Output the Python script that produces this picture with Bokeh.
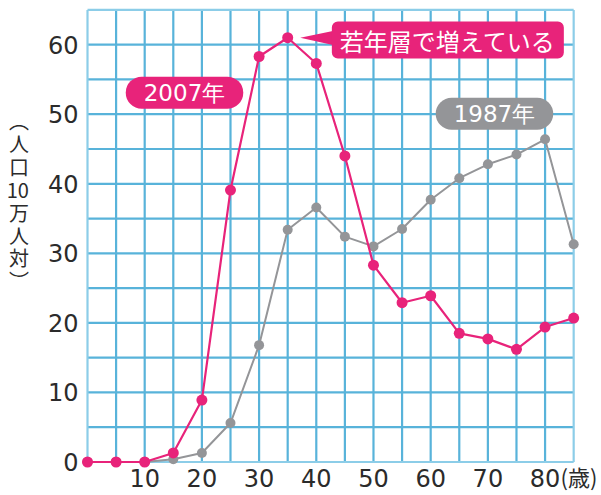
from bokeh.plotting import figure
from bokeh.models import Range1d, FixedTicker, Label, PolyAnnotation
from bokeh.core.properties import value
from bokeh.embed import file_html
from bokeh.resources import INLINE

# ---- data ----
ages = [0, 5, 10, 15, 20, 25, 30, 35, 40, 45, 50, 55, 60, 65, 70, 75, 80, 85]
pop_2007 = [0, 0, 0, 1.3, 8.9, 39.1, 58.3, 61.0, 57.3, 44.0, 28.3, 22.9, 23.9, 18.5, 17.7, 16.2, 19.4, 20.7]
pop_1987 = [0, 0, 0, 0.4, 1.3, 5.6, 16.8, 33.4, 36.6, 32.4, 31.0, 33.5, 37.7, 40.8, 42.8, 44.2, 46.4, 31.3]
x_ticks = [10, 20, 30, 40, 50, 60, 70, 80]
x_tick_labels = ["10", "20", "30", "40", "50", "60", "70", "80"]
y_ticks = [0, 10, 20, 30, 40, 50, 60]
grid_y = [5, 10, 15, 20, 25, 30, 35, 40, 45, 50, 55, 60]
x_min, x_max = 0, 85
y_min, y_max = 0, 65
x_unit = "(歳)"
y_title = "︵\n人\n口\n10\n万\n人\n対\n︶\n\u3000\n\u3000\n\u3000\n\u3000"

PINK = "#e8237a"
GRAY = "#949598"
GRID = "#58b3da"
BORDER = "#8ccde8"
TEXT = "#2b2b2b"
JP = "Noto Sans CJK JP"
NUM = "DejaVu Sans"

p = figure(width=600, height=492, x_range=Range1d(-1.049, 89.69), y_range=Range1d(-4.385, 66.35),
           output_backend="svg", toolbar_location=None,
           min_border_left=81, min_border_right=0, min_border_top=0, min_border_bottom=0)
p.outline_line_color = None
p.xgrid.visible = False
p.ygrid.visible = False

# grid
inner_x = [a for a in ages if x_min < a < x_max]
p.segment(x0=inner_x, y0=y_min, x1=inner_x, y1=y_max, line_color=GRID, line_width=2.2)
p.segment(x0=x_min, y0=grid_y, x1=x_max, y1=grid_y, line_color=GRID, line_width=2.2)
p.segment(x0=[x_min, x_max], y0=y_min, x1=[x_min, x_max], y1=y_max, line_color=BORDER, line_width=2.2)
p.segment(x0=x_min, y0=[y_min, y_max], x1=x_max, y1=[y_min, y_max], line_color=BORDER, line_width=2.2)

# series
p.line(ages, pop_1987, line_color=GRAY, line_width=2)
p.scatter(ages, pop_1987, size=10, fill_color=GRAY, line_color=None)
p.line(ages, pop_2007, line_color=PINK, line_width=2.2)
p.scatter(ages, pop_2007, size=11, fill_color=PINK, line_color=None)

# x tick labels (drawn on the x scale, below the zero line)
p.xaxis.visible = False
p.text(x=x_ticks, y=-2.33, text=x_tick_labels, text_align="center", text_baseline="middle",
       text_font=value(NUM), text_font_size="24px", text_color=TEXT)
p.add_layout(Label(x=82.69, y=-2.08, text=x_unit, text_align="left", text_baseline="middle",
                   text_color=TEXT, text_font=JP, text_font_size="22px"))

# y axis
ax = p.yaxis[0]
ax.axis_line_color = None
ax.major_tick_line_color = None
ax.minor_tick_line_color = None
ax.major_label_text_font = NUM
ax.major_label_text_font_size = "24px"
ax.major_label_text_color = TEXT
ax.ticker = FixedTicker(ticks=y_ticks)
ax.major_label_standoff = -3
ax.axis_label = y_title
ax.axis_label_orientation = "horizontal"
ax.axis_label_text_font = JP
ax.axis_label_text_font_size = "20px"
ax.axis_label_text_font_style = "normal"
ax.axis_label_text_color = TEXT
ax.axis_label_text_line_height = 0.79
ax.axis_label_standoff = 16

# annotations
p.add_layout(Label(x=16.96, y=53.1, text="2007年", text_align="center", text_baseline="middle",
                   text_color="white", text_font=NUM, text_font_size="23px",
                   background_fill_color=PINK, border_line_color=None,
                   padding=(18, 3), border_radius=16))
p.add_layout(Label(x=71.15, y=50.07, text="1987年", text_align="center", text_baseline="middle",
                   text_color="white", text_font=NUM, text_font_size="23px",
                   background_fill_color=GRAY, border_line_color=None,
                   padding=(18, 3), border_radius=16))
p.add_layout(PolyAnnotation(xs=[37.2, 43.1, 43.1], ys=[61.0, 62.0, 59.9],
                            fill_color=PINK, fill_alpha=1, line_color=None))
p.add_layout(Label(x=63.0, y=60.67, text="若年層で増えている", text_align="center", text_baseline="middle",
                   text_color="white", text_font=JP, text_font_size="24px",
                   background_fill_color=PINK, border_line_color=None,
                   padding=(8, 1), border_radius=6))

open("out.html", "w").write(file_html(p, INLINE))
